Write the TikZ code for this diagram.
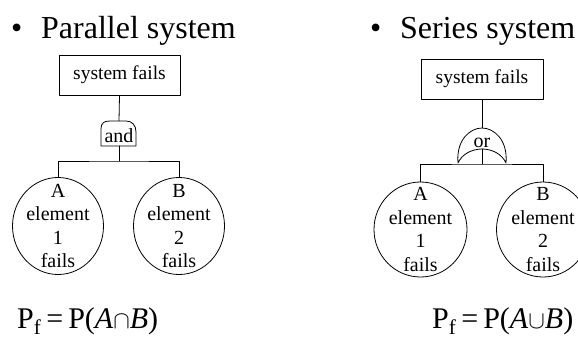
\documentclass[tikz,border=0pt]{standalone}
\usepackage{fontspec}
\setmainfont{Liberation Serif}
\usetikzlibrary{shapes.geometric}

\begin{document}
\begin{tikzpicture}[x=1bp,y=1bp,line cap=round,line join=round]
  \path[use as bounding box] (0,0) rectangle (578,340);
  \fill[white] (0,0) rectangle (578,340);

  \tikzset{
    heading/.style={anchor=base west,inner sep=0pt,
      font=\fontsize{32bp}{32bp}\selectfont},
    eventbox/.style={draw,line width=0.8bp,minimum width=121bp,minimum height=40bp,
      inner sep=0pt,font=\fontsize{19.5bp}{19.5bp}\selectfont},
    gatetext/.style={inner sep=0pt,font=\fontsize{20bp}{20bp}\selectfont},
    elementnode/.style={ellipse,draw,line width=0.8bp,minimum width=91bp,
      minimum height=97bp,inner sep=-10bp,align=center,
      font=\fontsize{20bp}{23.5bp}\selectfont},
    formula/.style={anchor=base west,inner sep=0pt,
      font=\fontsize{30bp}{30bp}\selectfont},
    wire/.style={line width=0.8bp},
  }

  % 1: Parallel system
  \node[heading] (titleL) at (11,302) {\textbullet\hspace{18.8bp}Parallel system};
  \node[eventbox] (topL) at (119.5,265) {system fails};
  \node[gatetext] (andL) at (119,204) {and};
  \draw[wire] (101,194) -- (101,211) .. controls (101,217) and (104,219) .. (110,219)
    -- (126,219) .. controls (132,219) and (136,215) .. (136,208) -- (136,194) -- cycle;
  \coordinate (andTop) at (119,219);
  \coordinate (andFoot) at (119,194);
  \coordinate (busL) at (119,179);
  \node[elementnode] (elemA) at (58,114) {A\\element\\1\\fails};
  \node[elementnode] (elemB) at (179,114) {B\\element\\2\\fails};
  \draw[wire] (topL.south) -- (andTop);
  \draw[wire] (andFoot) -- (busL);
  \draw[wire] (elemA.north) |- (busL) -| (elemB.north);
  \node[formula] (probL) at (17,12)
    {P\textsubscript{f}\,=\,P(\textit{A}$\cap$\textit{B})};

  % 2: Series system
  \node[heading] (titleR) at (370,302) {\textbullet\hspace{18.8bp}Series system};
  \node[eventbox,minimum width=122bp] (topR) at (482,261) {system fails};
  \node[gatetext] (orR) at (482,197) {or};
  \draw[wire] (458,177) .. controls (456,200) and (470,212) .. (482,212)
    .. controls (494,212) and (508,200) .. (506,177)
    .. controls (502,186) and (492,191) .. (482,191)
    .. controls (472,191) and (462,186) .. (458,177) -- cycle;
  \coordinate (orTop) at (482,212);
  \coordinate (orFoot) at (482,191);
  \coordinate (busR) at (482,176);
  \node[elementnode,minimum width=93bp,minimum height=95bp] (elemC) at (420.5,110.5)
    {A\\element\\1\\fails};
  \node[elementnode,minimum width=93bp,minimum height=95bp] (elemD) at (543,110.5)
    {B\\element\\2\\fails};
  \draw[wire] (topR.south) -- (orTop);
  \draw[wire] (orFoot) -- (busR);
  \draw[wire] (elemC.north) |- (busR) -| (elemD.north);
  \node[formula] (probR) at (432,12)
    {P\textsubscript{f}\,=\,P(\textit{A}$\cup$\textit{B})};
\end{tikzpicture}
\end{document}
